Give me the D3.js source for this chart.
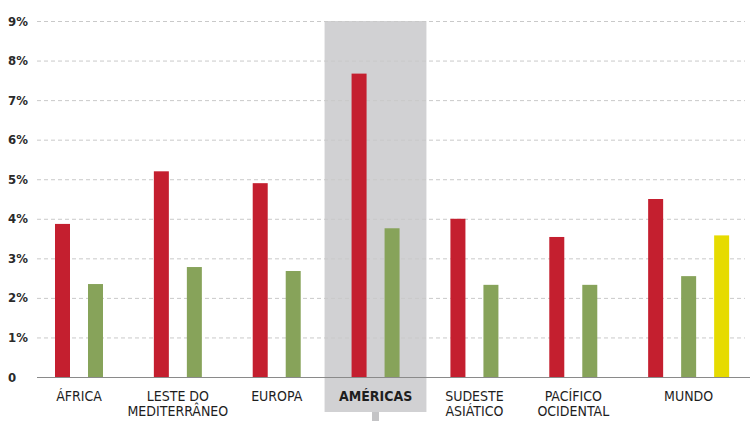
<!DOCTYPE html>
<html>
<head>
<meta charset="utf-8">
<script src="https://cdn.jsdelivr.net/npm/d3@7"></script>
<style>
  body { margin: 0; background: #fff; }
  svg { display: block; }
  .tick-label { font-family: "DejaVu Sans Condensed", "DejaVu Sans", sans-serif; font-stretch: condensed; font-weight: bold; font-size: 13px; fill: #2a2a2a; }
  .cat-label { font-family: "DejaVu Sans Condensed", "DejaVu Sans", sans-serif; font-stretch: condensed; font-size: 14px; fill: #1e1e1e; }
</style>
</head>
<body>
<div id="chart"></div>
<script>
// regiões (linhas do rótulo)
const categories = ["ÁFRICA", "LESTE DO MEDITERRÂNEO", "EUROPA", "AMÉRICAS", "SUDESTE ASIÁTICO", "PACÍFICO OCIDENTAL", "MUNDO"];
const labelLines = [["ÁFRICA"], ["LESTE DO", "MEDITERRÂNEO"], ["EUROPA"], ["AMÉRICAS"], ["SUDESTE", "ASIÁTICO"], ["PACÍFICO", "OCIDENTAL"], ["MUNDO"]];
const series = ["s1", "s2", "s3"];
const redValues = [3.87, 5.2, 4.9, 7.67, 4.0, 3.54, 4.5];
const greenValues = [2.35, 2.78, 2.68, 3.76, 2.33, 2.33, 2.55];
const yellowValues = [null, null, null, null, null, null, 3.58];
const yTicks = [0, 1, 2, 3, 4, 5, 6, 7, 8, 9];
const highlight = "AMÉRICAS";

const colors = { s1: "#c41f2f", s2: "#87a35a", s3: "#e6db00" };

const width = 750, height = 421;
const svg = d3.select("#chart").append("svg")
  .attr("width", width)
  .attr("height", height);

const y = d3.scaleLinear().domain([0, 9]).range([377, 21]);

const x = d3.scaleBand()
  .domain(categories)
  .range([29, 721])
  .padding(0);

const xSub = d3.scaleBand()
  .domain(series)
  .range([26, 107])
  .paddingInner(18 / 33)
  .paddingOuter(0);

const data = categories.map((c, i) => ({
  cat: c,
  lines: labelLines[i],
  values: [
    { key: "s1", v: redValues[i] },
    { key: "s2", v: greenValues[i] },
    { key: "s3", v: yellowValues[i] }
  ].filter(d => d.v != null)
}));

// destaque cinza
svg.append("rect")
  .attr("x", x(highlight) - 1)
  .attr("y", y(9))
  .attr("width", x.bandwidth() + 3)
  .attr("height", 412 - y(9))
  .attr("fill", "#d1d1d3");

svg.append("rect")
  .attr("x", x(highlight) + x.bandwidth() / 2 - 3)
  .attr("y", 412)
  .attr("width", 7)
  .attr("height", height - 412)
  .attr("fill", "#c4c4c6");

// grade tracejada
svg.append("g")
  .selectAll("line")
  .data(yTicks.filter(t => t > 0))
  .enter().append("line")
    .attr("x1", 37)
    .attr("x2", 745)
    .attr("y1", d => y(d) + 0.5)
    .attr("y2", d => y(d) + 0.5)
    .attr("stroke", "#c9c9c9")
    .attr("stroke-width", 1)
    .attr("stroke-dasharray", "4,3");

// rótulos do eixo y
svg.append("g")
  .selectAll("text")
  .data(yTicks)
  .enter().append("text")
    .attr("class", "tick-label")
    .attr("x", 8)
    .attr("y", d => y(d))
    .attr("dy", "0.35em")
    .text(d => d === 0 ? "0" : d + "%");

// barras
const groups = svg.append("g")
  .selectAll("g")
  .data(data)
  .enter().append("g")
    .attr("transform", d => "translate(" + x(d.cat) + ",0)");

groups.selectAll("rect")
  .data(d => d.values)
  .enter().append("rect")
    .attr("x", d => xSub(d.key))
    .attr("y", d => y(d.v))
    .attr("width", xSub.bandwidth())
    .attr("height", d => y(0) - y(d.v))
    .attr("fill", d => colors[d.key]);

// linha de base
svg.append("line")
  .attr("x1", 37)
  .attr("x2", 750)
  .attr("y1", y(0) + 0.5)
  .attr("y2", y(0) + 0.5)
  .attr("stroke", "#8a8a8a")
  .attr("stroke-width", 1);

// rótulos das categorias
groups.each(function (d) {
  const first = xSub(d.values[0].key);
  const last = xSub(d.values[d.values.length - 1].key) + xSub.bandwidth();
  const cx = (first + last) / 2;
  const t = d3.select(this).append("text")
    .attr("class", "cat-label")
    .attr("text-anchor", "middle")
    .style("font-weight", d.cat === highlight ? "bold" : "normal");
  d.lines.forEach((line, j) => {
    t.append("tspan")
      .attr("x", cx)
      .attr("y", 401 + j * 15)
      .text(line);
  });
});
</script>
</body>
</html>
